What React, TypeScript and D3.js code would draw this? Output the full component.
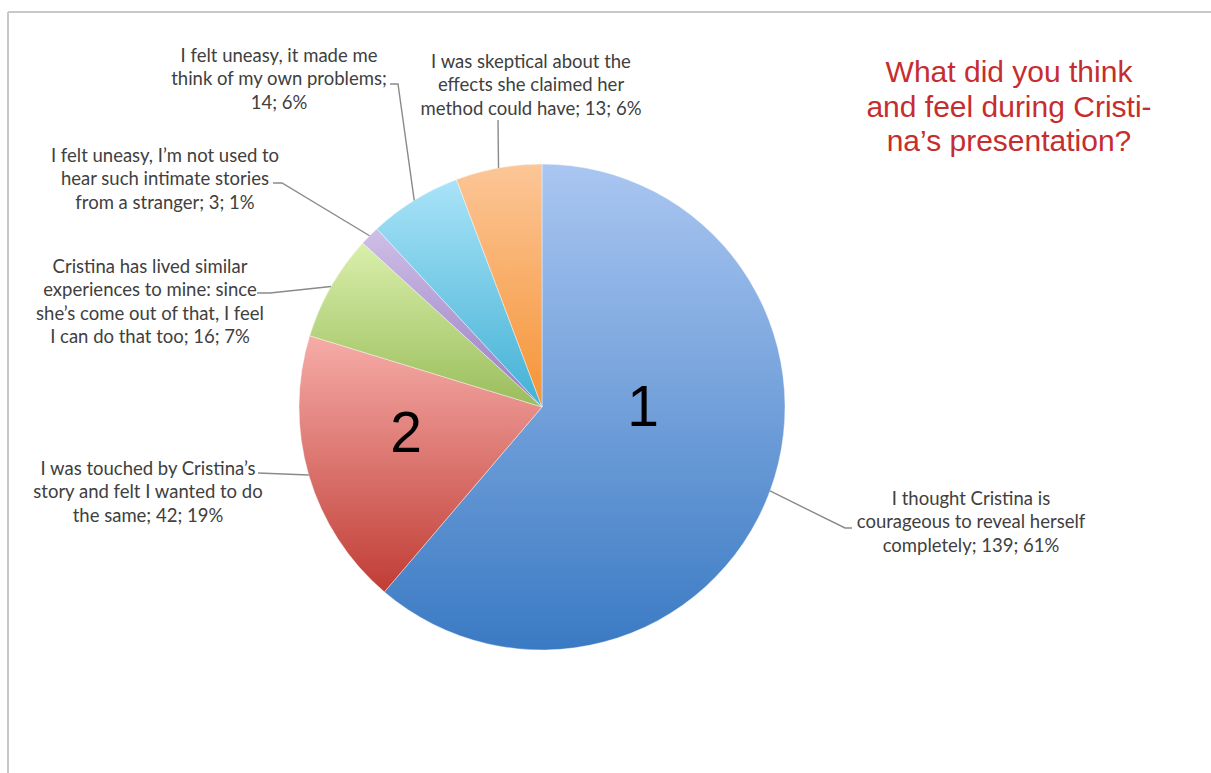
import React from "react";
import * as d3 from "d3";

const categories = [
  "I thought Cristina is courageous to reveal herself completely",
  "I was touched by Cristina’s story and felt I wanted to do the same",
  "Cristina has lived similar experiences to mine: since she’s come out of that, I feel I can do that too",
  "I felt uneasy, I’m not used to hear such intimate stories from a stranger",
  "I felt uneasy, it made me think of my own problems",
  "I was skeptical about the effects she claimed her method could have",
];
const values = [139, 42, 16, 3, 14, 13];
const percents = ["61%", "19%", "7%", "1%", "6%", "6%"];
const labelLines = [
  ["I thought Cristina is", "courageous to reveal herself", "completely; 139; 61%"],
  ["I was touched by Cristina’s", "story and felt I wanted to do", "the same; 42; 19%"],
  ["Cristina has lived similar", "experiences to mine: since", "she’s come out of that, I feel", "I can do that too; 16; 7%"],
  ["I felt uneasy, I’m not used to", "hear such intimate stories", "from a stranger; 3; 1%"],
  ["I felt uneasy, it made me", "think of my own problems;", "14; 6%"],
  ["I was skeptical about the", "effects she claimed her", "method could have; 13; 6%"],
];
const bigNumbers = ["1", "2", "", "", "", ""];
const titleLines = ["What did you think", "and feel during Cristi-", "na’s presentation?"];

const gradTop = ["#aac6f1", "#f6aca8", "#d9efab", "#cebfe7", "#a9e3f8", "#fcc697"];
const gradBottom = ["#3a7ac3", "#c03d35", "#9abd5b", "#987cc1", "#43b1d4", "#f59436"];

// label layout: center x, first baseline, leader path start points (label side)
const labelLayout = [
  { cx: 971, y0: 505, leader: [[852, 528], [845, 528]] },
  { cx: 148, y0: 475, leader: [[258, 473]] },
  { cx: 150, y0: 273, leader: [[257, 293], [270, 293]] },
  { cx: 165, y0: 162, leader: [[273, 183], [282, 183]] },
  { cx: 279, y0: 62, leader: [[390, 84], [398, 84]] },
  { cx: 531, y0: 68, leader: [[498, 120]] },
];
// offsets of the big slice numbers from the pie centre
const numberOffsets = [
  [101, 19],
  [-136, 45],
  [0, 0],
  [0, 0],
  [0, 0],
  [0, 0],
];

const W = 1211;
const H = 773;
const cx = 542;
const cy = 407;
const R = 243;
const lineH = 23.3;

export default function App() {
  const pie = d3.pie<number>().sort(null).value((d) => d).startAngle(0).endAngle(2 * Math.PI);
  const arcs = pie(values);
  const arc = d3.arc<d3.PieArcDatum<number>>().innerRadius(0).outerRadius(R);

  return (
    <svg
      width={W}
      height={H}
      style={{ position: "absolute", left: 0, top: 0, background: "#fff" }}
    >
      <defs>
        {values.map((_, i) => (
          <linearGradient key={i} id={`g${i}`} x1="0" y1="0" x2="0" y2="1">
            <stop offset="0" stopColor={gradTop[i]} />
            <stop offset="1" stopColor={gradBottom[i]} />
          </linearGradient>
        ))}
      </defs>
      <rect x={0} y={0} width={W} height={H} fill="#fff" />
      <line x1={8} y1={12} x2={W} y2={12} stroke="#c8c8c8" strokeWidth={2} />
      <line x1={8} y1={12} x2={8} y2={H} stroke="#c8c8c8" strokeWidth={2} />

      <g transform={`translate(${cx},${cy})`}>
        {arcs.map((a, i) => (
          <path
            key={i}
            d={arc(a) || ""}
            fill={`url(#g${i})`}
            stroke="#ffffff"
            strokeOpacity={0.5}
            strokeWidth={0.8}
          >
            <title>{`${categories[i]}; ${values[i]}; ${percents[i]}`}</title>
          </path>
        ))}
      </g>

      {arcs.map((a, i) => {
        const mid = (a.startAngle + a.endAngle) / 2;
        const ex = cx + R * Math.sin(mid);
        const ey = cy - R * Math.cos(mid);
        const pts = [...labelLayout[i].leader, [ex, ey]];
        const d = d3.line()(pts as [number, number][]) || "";
        return <path key={`l${i}`} d={d} fill="none" stroke="#8a8a8a" strokeWidth={1.4} />;
      })}

      {labelLines.map((lines, i) => (
        <text
          key={`t${i}`}
          textAnchor="middle"
          fontFamily="Lato, 'Open Sans', sans-serif"
          fontSize={18.5}
          fill="#404040"
        >
          {lines.map((ln, j) => (
            <tspan key={j} x={labelLayout[i].cx} y={labelLayout[i].y0 + j * lineH}>
              {ln}
            </tspan>
          ))}
        </text>
      ))}

      {bigNumbers.map((n, i) => {
        if (!n) return null;
        return (
          <text
            key={`n${i}`}
            x={cx + numberOffsets[i][0]}
            y={cy + numberOffsets[i][1]}
            textAnchor="middle"
            fontFamily="'Liberation Sans', Arial, sans-serif"
            fontSize={57}
            fill="#000"
          >
            {n}
          </text>
        );
      })}

      <text
        textAnchor="middle"
        fontFamily="'Liberation Sans', Arial, sans-serif"
        fontSize={30}
        fill="#c62d2e"
      >
        {titleLines.map((ln, j) => (
          <tspan key={j} x={1009} y={82 + j * 34.5}>
            {ln}
          </tspan>
        ))}
      </text>
    </svg>
  );
}
